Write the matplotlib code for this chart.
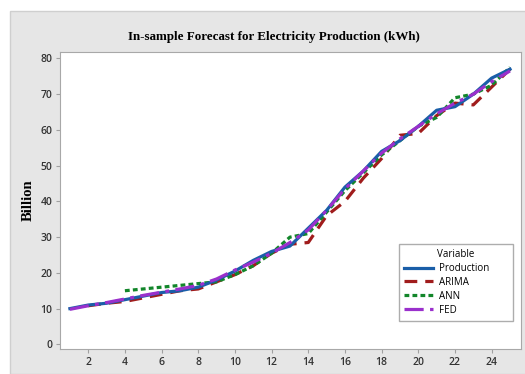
import matplotlib.pyplot as plt
from matplotlib.patches import Rectangle

periods = list(range(1, 26))
production = [10.0, 11.0, 11.5, 12.5, 13.5, 14.5, 15.0, 16.0, 18.0, 20.5,
              23.5, 26.0, 27.5, 32.5, 37.5, 44.0, 48.5, 54.0, 57.0, 61.0,
              65.5, 66.5, 70.0, 74.5, 77.0]
arima_x = list(range(2, 26))
arima = [10.8, 11.5, 12.0, 13.0, 14.0, 15.0, 15.5, 17.5, 19.5,
         22.0, 25.5, 28.0, 28.5, 36.0, 40.0, 46.5, 52.0, 58.5, 59.0,
         64.0, 67.5, 67.0, 72.0, 77.0]
ann_x = list(range(4, 26))
ann = [15.0, 15.5, 16.0, 16.5, 17.0, 17.5, 19.5,
       22.0, 25.5, 30.0, 31.0, 37.0, 43.0, 48.0, 53.0, 57.0, 61.0,
       63.5, 69.0, 70.0, 72.5, 77.5]
fed = [9.8, 10.8, 11.7, 12.7, 13.7, 14.6, 15.5, 16.5, 18.3, 20.8,
       23.0, 25.5, 28.5, 32.0, 37.5, 43.5, 48.5, 53.5, 57.5, 61.0,
       64.5, 67.5, 70.0, 73.5, 76.5]

x_ticks = list(range(2, 26, 2))
y_ticks = list(range(0, 90, 10))

fig = plt.figure(figsize=(5.25, 3.74), dpi=100)
fig.patch.set_facecolor("white")
# grey panel behind the plot
panel = Rectangle((10 / 525, 0), 1, 1 - 11 / 374, transform=fig.transFigure,
                  facecolor="#e6e6e6", edgecolor="#cfcfcf", lw=1, zorder=-5)
fig.add_artist(panel)

ax = fig.add_axes([60 / 525, 1 - 349 / 374, 461 / 525, 297 / 374])
ax.set_zorder(1)
ax.set_facecolor("white")

ax.plot(periods, production, color="#1a5ea8", lw=2.3, label="Production", zorder=4)
ax.plot(arima_x, arima, color="#a01c1c", lw=2.3, ls=(0, (4, 2.5)), label="ARIMA", zorder=3)
ax.plot(ann_x, ann, color="#12862a", lw=2.3, ls=(0, (1.5, 1)), label="ANN", zorder=3)
ax.plot(periods, fed, color="#9a30cc", lw=2.3, ls=(0, (6, 2, 1.2, 2)), label="FED", zorder=5)

ax.set_xlim(0.46, 25.6)
ax.set_ylim(-1.3, 81.8)
ax.set_xticks(x_ticks)
ax.set_yticks(y_ticks)
ax.tick_params(colors="#a0a0a0", labelcolor="#333333", labelsize=7.5, length=3, width=0.8,
               pad=2.5)
for lab in ax.get_xticklabels() + ax.get_yticklabels():
    lab.set_family("Open Sans")
    lab.set_fontweight("semibold")
for s in ax.spines.values():
    s.set_color("#a8a8a8")

ax.set_ylabel("Billion", family="Liberation Serif", fontweight="bold", fontsize=10.5,
              labelpad=4)
fig.text(0.521, 1 - 37 / 374, "In-sample Forecast for Electricity Production (kWh)",
         family="Liberation Serif", fontweight="bold", fontsize=9.4, ha="center",
         va="center")

leg = ax.legend(title="Variable", loc="lower left", bbox_to_anchor=(0.735, 0.094, 0.247, 0.2),
                mode="expand", borderaxespad=0, frameon=True, fancybox=False,
                edgecolor="#999999", handlelength=3.0, handletextpad=0.6,
                borderpad=0.55, labelspacing=0.3,
                prop={"family": "Open Sans", "size": 7},
                title_fontproperties={"family": "Open Sans", "size": 7})
leg.get_frame().set_linewidth(1)

fig.savefig("out.png", dpi=100)
